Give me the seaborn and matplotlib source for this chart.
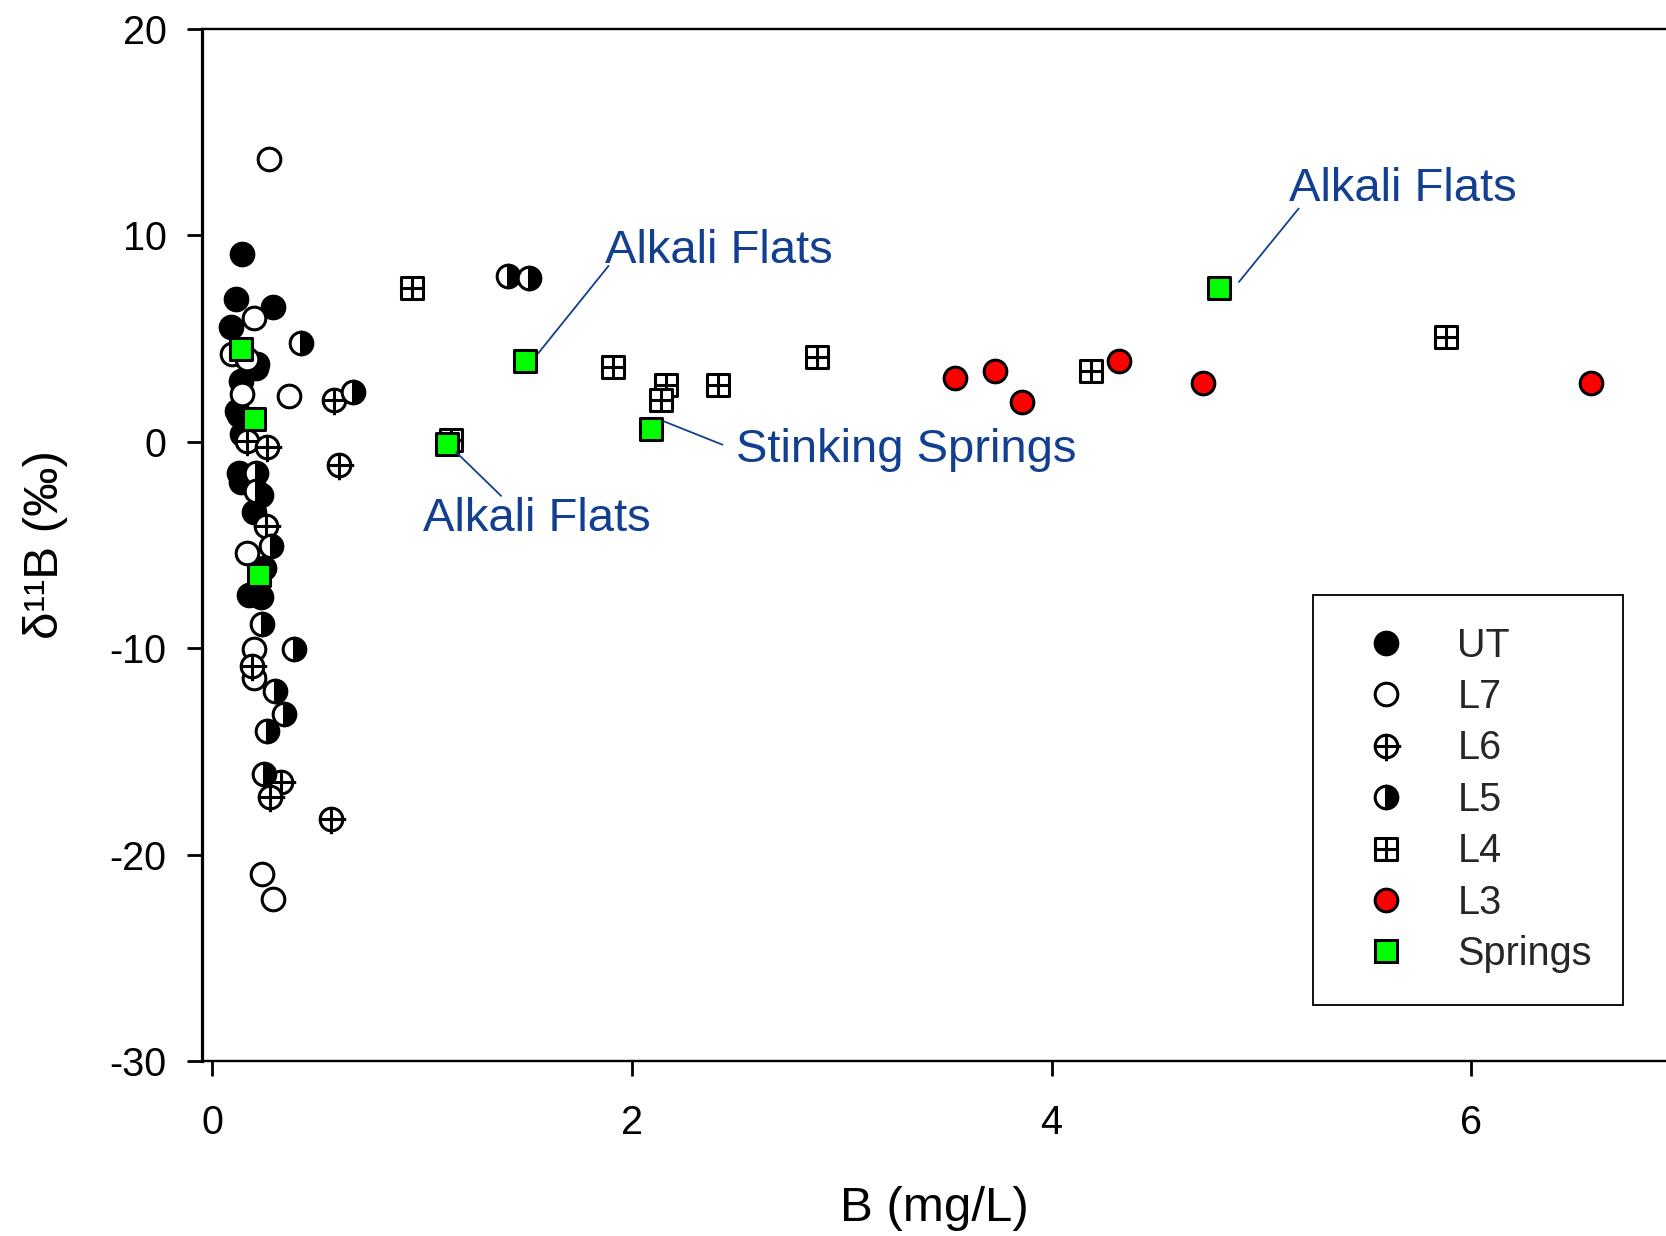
import numpy as np
import pandas as pd
import matplotlib
matplotlib.use("Agg")
import matplotlib.pyplot as plt
import seaborn as sns
from matplotlib.path import Path
from matplotlib.lines import Line2D

# ---------------- data ----------------
ut_x = [0.142, 0.11, 0.29, 0.09, 0.214, 0.206, 0.134, 0.118, 0.126, 0.142, 0.126, 0.134, 0.23, 0.198, 0.246, 0.174, 0.23]
ut_y = [9.1, 6.9, 6.5, 5.55, 3.75, 3.55, 2.95, 1.5, 1.3, 0.35, -1.5, -1.95, -2.6, -3.4, -6.1, -7.45, -7.55]

l7_x = [0.27, 0.20, 0.094, 0.166, 0.142, 0.365, 0.166, 0.198, 0.198, 0.238, 0.289]
l7_y = [13.7, 6.0, 4.25, 4.0, 2.3, 2.2, -5.4, -10.05, -11.45, -20.95, -22.15]

l6_x = [0.579, 0.604, 0.166, 0.26, 0.254, 0.19, 0.325, 0.273, 0.563]
l6_y = [2.0, -1.15, 0.05, -0.28, -4.1, -10.85, -16.5, -17.2, -18.3]

l5_x = [0.42, 0.67, 1.41, 1.51, 0.206, 0.206, 0.28, 0.238, 0.389, 0.30, 0.341, 0.26, 0.246]
l5_y = [4.78, 2.42, 8.04, 7.94, -1.5, -2.4, -5.05, -8.85, -10.05, -12.08, -13.2, -14.0, -16.1]

l4_x = [0.95, 1.137, 1.91, 2.16, 2.14, 2.41, 2.88, 4.19, 5.88]
l4_y = [7.42, 0.1, 3.61, 2.73, 2.0, 2.73, 4.12, 3.40, 5.05]

l3_x = [3.54, 3.73, 3.86, 4.32, 4.72, 6.57]
l3_y = [3.09, 3.40, 1.91, 3.92, 2.84, 2.84]

sp_x = [0.137, 0.198, 0.223, 1.117, 1.492, 2.09, 4.80]
sp_y = [4.48, 1.08, -6.44, -0.1, 3.92, 0.62, 7.42]

x_ticks = [0, 2, 4, 6]
y_ticks = [-30, -20, -10, 0, 10, 20]

annot_labels = ["Alkali Flats", "Alkali Flats", "Stinking Springs", "Alkali Flats"]
annot_text_xy = [(1.873, 8.66), (5.132, 11.65), (2.497, -0.98), (1.005, -4.33)]
annot_line_from = [(1.888, 8.51), (5.178, 11.29), (2.431, -0.15), (1.376, -2.63)]
annot_line_to = [(1.553, 4.28), (4.893, 7.73), (2.152, 0.98), (1.162, -0.52)]

# ---------------- style ----------------
sns.set_theme(style="white")
plt.rcParams['font.family'] = ['Liberation Sans', 'DejaVu Sans']
plt.rcParams['axes.unicode_minus'] = False

fig = plt.figure(figsize=(16.66, 12.36), dpi=100)
ax = fig.add_axes([0.1213, 0.1416, 0.8787, 0.8352])

MS = 16.3
EW = 2.2

# custom markers
circ = Path.unit_circle()
l6_verts = list(circ.vertices) + [(-1, 0), (1.3, 0), (0, 1), (0, -1.3)]
l6_codes = list(circ.codes) + [Path.MOVETO, Path.LINETO, Path.MOVETO, Path.LINETO]
l6_marker = Path(l6_verts, l6_codes)

l4_verts = [(-1, -1), (1, -1), (1, 1), (-1, 1), (-1, -1), (-1, 0), (1, 0), (0, -1), (0, 1)]
l4_codes = [Path.MOVETO, Path.LINETO, Path.LINETO, Path.LINETO, Path.CLOSEPOLY,
            Path.MOVETO, Path.LINETO, Path.MOVETO, Path.LINETO]
l4_marker = Path(l4_verts, l4_codes)

def df(x, y):
    return pd.DataFrame({"B": x, "d11B": y})

SQ = MS - 0.8

sns.scatterplot(data=df(ut_x, ut_y), x="B", y="d11B", ax=ax, marker="o", s=MS**2,
                color="black", edgecolor="black", linewidth=EW, zorder=3)
sns.scatterplot(data=df(l7_x, l7_y), x="B", y="d11B", ax=ax, marker="o", s=MS**2,
                color="white", edgecolor="black", linewidth=EW, zorder=4)
sns.scatterplot(data=df(l6_x, l6_y), x="B", y="d11B", ax=ax, marker=l6_marker, s=(MS * 1.3)**2,
                color="white", edgecolor="black", linewidth=EW, zorder=5)
ax.plot(l5_x, l5_y, linestyle="none", marker="o", markersize=MS, fillstyle="right",
        markerfacecolor="black", markerfacecoloralt="white", markeredgecolor="black",
        markeredgewidth=EW, zorder=6)
sns.scatterplot(data=df(l4_x, l4_y), x="B", y="d11B", ax=ax, marker=l4_marker, s=SQ**2,
                color="white", edgecolor="black", linewidth=EW, zorder=7)
sns.scatterplot(data=df(l3_x, l3_y), x="B", y="d11B", ax=ax, marker="o", s=MS**2,
                color="#ff0000", edgecolor="black", linewidth=EW, zorder=8)
sns.scatterplot(data=df(sp_x, sp_y), x="B", y="d11B", ax=ax, marker="s", s=SQ**2,
                color="#00ff00", edgecolor="black", linewidth=EW, zorder=9)

# annotations
acol = "#123f8f"
for lab, txy, lf, lt in zip(annot_labels, annot_text_xy, annot_line_from, annot_line_to):
    ax.annotate("", xy=lt, xytext=lf,
                arrowprops=dict(arrowstyle="-", color=acol, lw=1.3, shrinkA=0, shrinkB=0),
                zorder=10)
    ax.text(txy[0], txy[1], lab, color=acol, fontsize=34, ha="left", va="baseline", zorder=10)

# axes
ax.set_xlim(-0.0496, 6.929)
ax.set_ylim(-30, 20)
ax.set_xticks(x_ticks)
ax.set_yticks(y_ticks)
ax.set_xticklabels([str(t) for t in x_ticks])
ax.set_yticklabels([str(t) for t in y_ticks])
ax.tick_params(axis="x", direction="out", length=11, width=2, pad=20, labelsize=28.5,
               colors="black", bottom=True)
ax.tick_params(axis="y", direction="out", length=11, width=2, pad=14.5, labelsize=28.5,
               colors="black", left=True)
for s in ["top", "bottom"]:
    ax.spines[s].set_linewidth(1.7)
    ax.spines[s].set_color("black")
ax.spines["left"].set_linewidth(2.3)
ax.spines["left"].set_color("black")
ax.spines["right"].set_visible(False)
ax.set_xlabel("B (mg/L)", fontsize=35.5, labelpad=32, color="black")
ax.set_ylabel("δ¹¹B (‰)", fontsize=35.5, labelpad=30, color="black")
ax.grid(False)

# legend
handles = [
    Line2D([], [], linestyle="none", marker="o", markersize=MS, markerfacecolor="black",
           markeredgecolor="black", markeredgewidth=EW),
    Line2D([], [], linestyle="none", marker="o", markersize=MS, markerfacecolor="white",
           markeredgecolor="black", markeredgewidth=EW),
    Line2D([], [], linestyle="none", marker=l6_marker, markersize=MS * 1.3, markerfacecolor="white",
           markeredgecolor="black", markeredgewidth=EW),
    Line2D([], [], linestyle="none", marker="o", markersize=MS, fillstyle="right",
           markerfacecolor="black", markerfacecoloralt="white", markeredgecolor="black",
           markeredgewidth=EW),
    Line2D([], [], linestyle="none", marker=l4_marker, markersize=SQ, markerfacecolor="white",
           markeredgecolor="black", markeredgewidth=EW),
    Line2D([], [], linestyle="none", marker="o", markersize=MS, markerfacecolor="#ff0000",
           markeredgecolor="black", markeredgewidth=EW),
    Line2D([], [], linestyle="none", marker="s", markersize=SQ, markerfacecolor="#00ff00",
           markeredgecolor="black", markeredgewidth=EW),
]
labels = ["UT", "L7", "L6", "L5", "L4", "L3", "Springs"]
leg = ax.legend(handles, labels, loc="upper left", bbox_to_anchor=(0.759, 0.4515),
                borderaxespad=0, fontsize=28.5, frameon=True, fancybox=False, framealpha=1,
                edgecolor="black", borderpad=0.8, labelspacing=0.34, handlelength=2.1,
                handletextpad=0.74)
leg.get_frame().set_linewidth(1.3)
leg.set_zorder(20)

fig.savefig("out.png", dpi=100, facecolor="white")
